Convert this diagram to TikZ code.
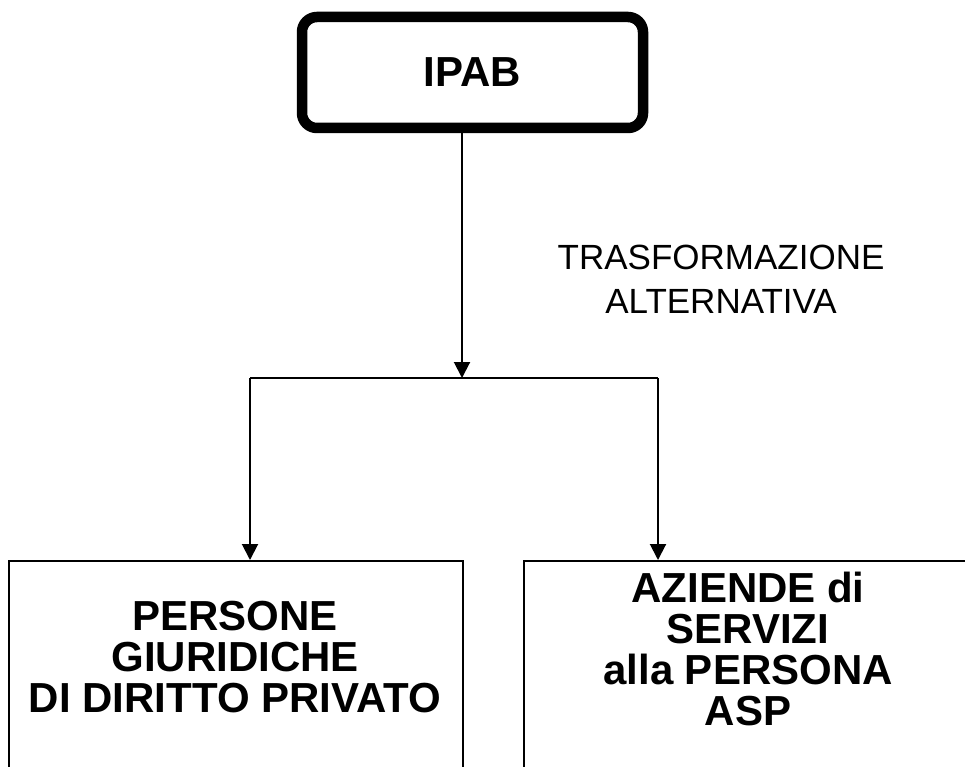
\documentclass[tikz,border=0pt]{standalone}
\usepackage{fontspec}
\setmainfont{Liberation Sans}
\usetikzlibrary{arrows.meta}
\begin{document}
\begin{tikzpicture}[x=1pt,y=-1pt,
  conn/.style={line width=2pt,draw=black},
  arr/.style={conn,-{Triangle[width=16pt,length=16pt]}},
  rootbox/.style={draw,line width=10.5pt,rounded corners=15pt,minimum width=341pt,minimum height=111pt,inner sep=0pt,
    font=\fontsize{42}{48}\selectfont\bfseries},
  leafbox/.style={draw,line width=2pt,anchor=north west,inner sep=0pt,minimum height=260pt},
  boldtxt/.style={font=\fontsize{42}{41}\selectfont\bfseries,align=center,inner sep=0pt},
  lbltxt/.style={font=\fontsize{35}{44}\selectfont,align=center,inner sep=0pt}]
\useasboundingbox (0,0) rectangle (965,767);
\clip (0,0) rectangle (965,767);
\fill[white] (0,0) rectangle (965,767);
% boxes
\node[rootbox] (ipab) at (472.5,72.5) {IPAB};
\node[leafbox,minimum width=454pt] (left) at (8,560) {};
\node[leafbox,minimum width=452pt] (right) at (523,560) {};
\node[boldtxt] (lefttxt) at (235,657) {PERSONE\\GIURIDICHE\\DI DIRITTO PRIVATO};
\node[boldtxt] (righttxt) at (748,649) {AZIENDE di\\SERVIZI\\alla PERSONA\\ASP};
% connectors
\coordinate (split) at (462,378);
\coordinate (lt) at (250,378);
\coordinate (rt) at (658,378);
\draw[arr] (ipab.south -| split) -- (split);
\draw[conn] (lt) -- (rt);
\draw[arr] (lt) -- (left.north -| lt);
\draw[arr] (rt) -- (right.north -| rt);
\node[lbltxt] (lbl) at (721,279) {TRASFORMAZIONE\\ALTERNATIVA};
\end{tikzpicture}
\end{document}
